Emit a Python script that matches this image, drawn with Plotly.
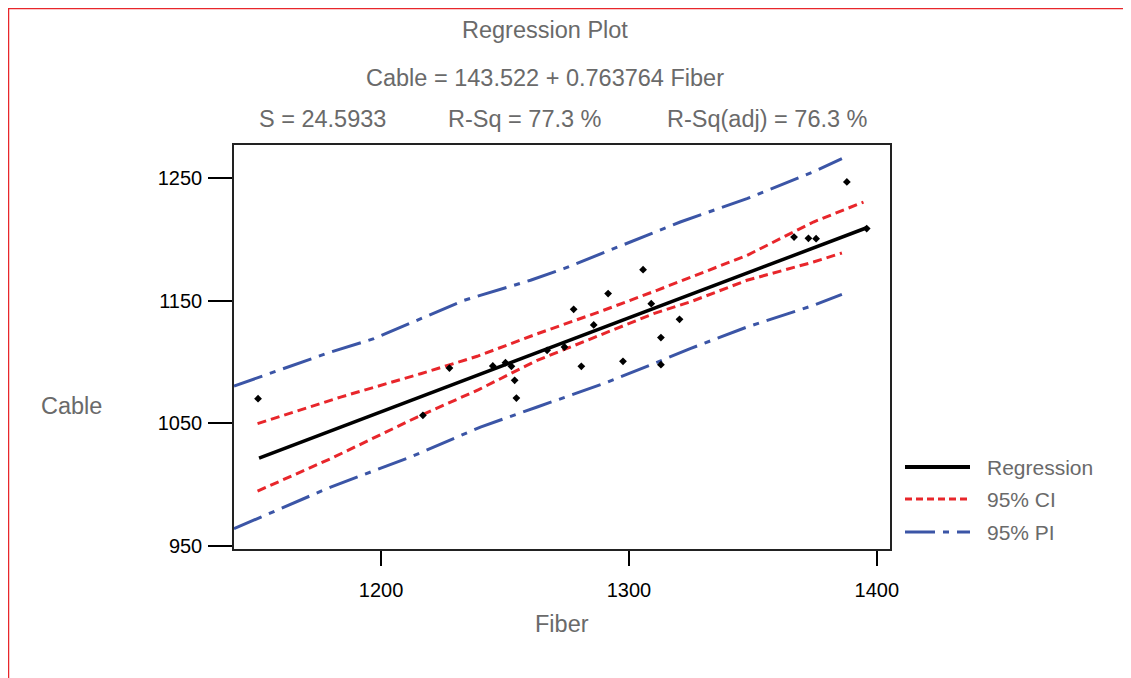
import plotly.graph_objects as go

# ---------------- data ----------------
fiber = [1150.4, 1216.9, 1227.6, 1245.1, 1250.2, 1252.6, 1253.9, 1254.6, 1267.0, 1274.0,
         1277.7, 1280.8, 1285.8, 1291.6, 1297.6, 1305.7, 1309.0, 1312.9, 1312.9, 1320.4,
         1366.6, 1372.4, 1375.5, 1387.9, 1395.9]
cable = [1070.0, 1056.4, 1095.0, 1096.7, 1099.4, 1096.4, 1085.0, 1070.5, 1109.5, 1112.2,
         1143.0, 1096.4, 1130.2, 1155.8, 1100.5, 1175.4, 1147.6, 1119.9, 1097.8, 1134.8,
         1202.0, 1201.0, 1200.7, 1247.0, 1208.9]

fit_fiber = [1150.8, 1395.9]
fit_cable = [1021.5, 1209.6]

ci_up_x = [1150.2, 1183.7, 1216.0, 1238.8, 1263.0, 1289.8, 1311.3, 1324.7, 1347.6, 1374.4, 1394.6]
ci_up_y = [1049.6, 1071.3, 1090.4, 1104.6, 1123.0, 1142.2, 1158.5, 1168.9, 1187.0, 1214.3, 1230.6]
ci_lo_x = [1150.2, 1179.7, 1214.6, 1239.4, 1263.0, 1289.8, 1310.0, 1324.7, 1347.6, 1374.4, 1385.9]
ci_lo_y = [994.5, 1021.0, 1055.0, 1077.4, 1101.3, 1123.0, 1139.5, 1149.0, 1166.7, 1181.6, 1189.0]

pi_up_x = [1140.7, 1179.7, 1197.1, 1233.4, 1260.3, 1273.7, 1320.7, 1347.6, 1374.4, 1385.9]
pi_up_y = [1080.3, 1108.1, 1119.0, 1150.3, 1166.7, 1176.2, 1214.3, 1233.4, 1255.2, 1266.1]
pi_lo_x = [1140.7, 1179.7, 1211.9, 1240.1, 1263.0, 1289.8, 1310.0, 1324.7, 1347.6, 1374.4, 1385.9]
pi_lo_y = [963.8, 997.8, 1022.3, 1046.8, 1063.2, 1082.3, 1098.6, 1110.9, 1128.5, 1146.2, 1155.2]

x_ticks = [1200, 1300, 1400]
y_ticks = [950, 1050, 1150, 1250]

title = "Regression Plot"
equation = "Cable = 143.522 + 0.763764 Fiber"
stats = ["S = 24.5933", "R-Sq = 77.3 %", "R-Sq(adj) = 76.3 %"]
legend_labels = ["Regression", "95% CI", "95% PI"]

# ---------------- styling ----------------
W, H = 1131, 678
OFF = 8  # page body margin in the browser
L, R, T, B = 234 - OFF, 890 - OFF, 145 - OFF, 549 - OFF
RED = "#e8262b"
BLUE = "#3b55a6"
GRAY = "#6a6a6a"
FONT = "Liberation Sans, Arial, sans-serif"
CI_DASH = "9px,5px"
PI_DASH = "30px,8px,6px,8px"


def px(x):
    return (x - OFF - L) / (R - L)


def py(y):
    return (B - (y - OFF)) / (B - T)


fig = go.Figure()
fig.add_trace(go.Scatter(x=pi_up_x, y=pi_up_y, mode="lines",
                         line=dict(color=BLUE, width=3, dash=PI_DASH), showlegend=False))
fig.add_trace(go.Scatter(x=pi_lo_x, y=pi_lo_y, mode="lines",
                         line=dict(color=BLUE, width=3, dash=PI_DASH), showlegend=False))
fig.add_trace(go.Scatter(x=ci_up_x, y=ci_up_y, mode="lines",
                         line=dict(color=RED, width=3, dash=CI_DASH), showlegend=False))
fig.add_trace(go.Scatter(x=ci_lo_x, y=ci_lo_y, mode="lines",
                         line=dict(color=RED, width=3, dash=CI_DASH), showlegend=False))
fig.add_trace(go.Scatter(x=fit_fiber, y=fit_cable, mode="lines",
                         line=dict(color="black", width=3.5), showlegend=False))
fig.add_trace(go.Scatter(x=fiber, y=cable, mode="markers",
                         marker=dict(symbol="diamond", size=6, color="black"), showlegend=False))

annotations = []


def text(s, x, y, size, color=GRAY, xanchor="center"):
    annotations.append(dict(text=s, x=px(x), y=py(y), xref="paper", yref="paper",
                            xanchor=xanchor, yanchor="middle", showarrow=False,
                            font=dict(family=FONT, size=size, color=color)))


text(title, 545, 30, 23.5)
text(equation, 545, 78, 23.5)
text(stats[0], 322, 119, 23.5)
text(stats[1], 525, 119, 23.5)
text(stats[2], 767, 119, 23.5)
text("Cable", 71, 406, 23.5)
text("Fiber", 562, 624, 23.5)

shapes = []
leg_y = [467, 499, 532]
leg_styles = [dict(color="black", width=4),
              dict(color=RED, width=3, dash="7px,4px"),
              dict(color=BLUE, width=3, dash=PI_DASH)]
for lab, yy, st in zip(legend_labels, leg_y, leg_styles):
    shapes.append(dict(type="line", xref="paper", yref="paper",
                       x0=px(905), x1=px(970), y0=py(yy), y1=py(yy), line=st))
    text(lab, 985, yy, 21, xanchor="left")

# red frame of the scanned page
shapes.append(dict(type="line", xref="paper", yref="paper", x0=px(8), x1=px(1150),
                   y0=py(8), y1=py(8), line=dict(color=RED, width=2.5)))
shapes.append(dict(type="line", xref="paper", yref="paper", x0=px(8), x1=px(8),
                   y0=py(8), y1=py(700), line=dict(color=RED, width=2.5)))

fig.update_layout(
    width=W, height=H,
    margin=dict(l=L, r=W - R, t=T, b=H - B, pad=0),
    paper_bgcolor="white", plot_bgcolor="white",
    showlegend=False,
    annotations=annotations,
    shapes=shapes,
    xaxis=dict(range=[1140.7, 1405.3], tickvals=x_ticks, ticks="outside", ticklen=15,
               tickwidth=1.5, tickcolor="black", showline=True, linecolor="#222",
               linewidth=1.5, mirror=True, showgrid=False, zeroline=False,
               ticklabelstandoff=7,
               tickfont=dict(family=FONT, size=20, color="black")),
    yaxis=dict(range=[947.2, 1277.2], tickvals=y_ticks, ticks="outside", ticklen=24,
               tickwidth=1.5, tickcolor="black", showline=True, linecolor="#222",
               linewidth=1.5, mirror=True, showgrid=False, zeroline=False,
               ticklabelstandoff=2,
               tickfont=dict(family=FONT, size=20, color="black")),
)

fig.write_html("out.html")
